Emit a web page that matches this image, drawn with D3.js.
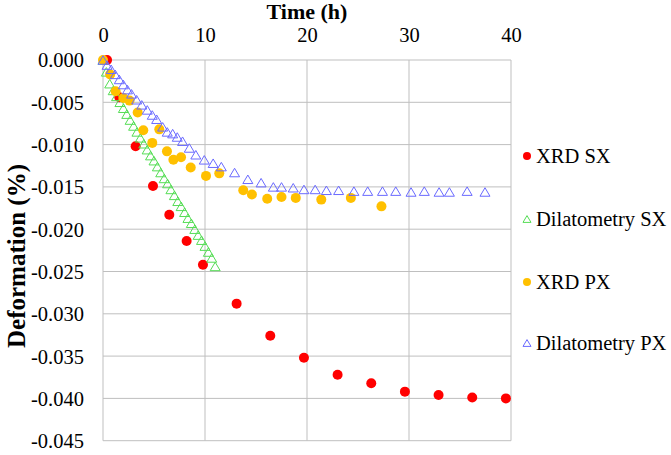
<!DOCTYPE html>
<html>
<head>
<meta charset="utf-8">
<script src="https://cdn.jsdelivr.net/npm/d3@7"></script>
<style>
body{margin:0;background:#fff;}
text{font-family:"Liberation Serif","Times New Roman",serif;fill:#000;}
</style>
</head>
<body>
<svg class="chart" width="671" height="455"></svg>
<script>
// XRD SX (red dots)
var xrdSxTime=[0.4,1.6,3.2,4.9,6.5,8.2,9.8,13.1,16.4,19.7,23.0,26.3,29.6,32.9,36.2,39.5];
var xrdSxDef=[0,-0.0044,-0.0102,-0.0149,-0.0183,-0.0214,-0.0242,-0.0288,-0.0326,-0.0352,-0.0372,-0.0382,-0.0392,-0.0396,-0.0399,-0.0400];

// Dilatometry SX (green triangles)
var dilSxTime=[0,0.33,0.66,1.0,1.33,1.66,2.0,2.33,2.66,3.0,3.33,3.66,4.0,4.33,4.66,5.0,5.33,5.66,6.0,6.33,6.66,7.0,7.33,7.66,8.0,8.33,8.66,9.0,9.33,9.66,10.0,10.33,10.66,11.0];
var dilSxDef=[0,-0.0014,-0.0028,-0.0036,-0.0043,-0.0050,-0.0057,-0.0064,-0.0071,-0.0078,-0.0085,-0.0092,-0.0099,-0.0106,-0.0113,-0.0119,-0.0126,-0.0133,-0.0140,-0.0146,-0.0153,-0.0160,-0.0167,-0.0173,-0.0180,-0.0187,-0.0193,-0.0200,-0.0207,-0.0213,-0.0220,-0.0227,-0.0234,-0.0244];

// XRD PX (orange dots)
var xrdPxTime=[0,0.7,1.24,2.0,2.6,3.4,3.95,4.83,5.52,6.27,6.9,7.65,8.6,10.1,11.4,13.75,14.6,16.1,17.5,18.9,21.4,24.3,27.3];
var xrdPxDef=[0,-0.0017,-0.0037,-0.0045,-0.0048,-0.0062,-0.0083,-0.0098,-0.0082,-0.0108,-0.0118,-0.0115,-0.0127,-0.0137,-0.0134,-0.0154,-0.0159,-0.0164,-0.0162,-0.0163,-0.0165,-0.0163,-0.0173];

// Dilatometry PX (blue triangles)
var dilPxTime=[0,0.4,0.8,1.2,1.6,2.0,2.4,2.8,3.3,3.8,4.34,4.83,5.26,5.85,6.3,6.83,7.28,7.8,8.46,9.1,9.93,10.8,11.6,12.9,14.2,15.5,16.7,17.5,18.65,19.7,20.8,21.9,23.1,24.6,25.95,27.4,28.7,30.2,31.5,32.95,33.96,35.7,37.45];
var dilPxDef=[0,-0.0006,-0.0011,-0.0017,-0.0023,-0.0029,-0.0035,-0.0040,-0.0047,-0.0053,-0.0059,-0.0065,-0.0070,-0.0079,-0.0085,-0.0087,-0.0091,-0.0096,-0.0104,-0.0112,-0.0118,-0.0122,-0.0126,-0.0133,-0.0141,-0.0145,-0.0150,-0.0150,-0.0151,-0.0153,-0.0153,-0.0154,-0.0154,-0.0155,-0.0155,-0.0155,-0.0155,-0.0156,-0.0155,-0.0156,-0.0156,-0.0155,-0.0156];

var xTicks=[0,10,20,30,40];
var yTicks=[0,-0.005,-0.010,-0.015,-0.020,-0.025,-0.030,-0.035,-0.040,-0.045];

var seriesNames=["XRD SX","Dilatometry SX","XRD PX","Dilatometry PX"];
var seriesColors=["#ff0000","#55dd55","#ffc000","#6a6aff"];

var svg=d3.select(".chart");
var x=d3.scaleLinear().domain([0,40]).range([103,511]);
var y=d3.scaleLinear().domain([0,-0.045]).range([60,440.7]);

// grid
svg.append("g").selectAll("line").data(yTicks).enter().append("line")
  .attr("x1",x(0)).attr("x2",x(40)).attr("y1",d=>y(d)).attr("y2",d=>y(d))
  .attr("stroke","#bfbfbf").attr("stroke-width",1);
svg.append("g").selectAll("line").data(xTicks).enter().append("line")
  .attr("y1",y(0)).attr("y2",y(-0.045)).attr("x1",d=>x(d)).attr("x2",d=>x(d))
  .attr("stroke","#bfbfbf").attr("stroke-width",1);

// axes labels
var yAxis=svg.append("g").attr("transform","translate("+x(0)+",0)")
  .call(d3.axisLeft(y).tickValues(yTicks).tickSize(0).tickPadding(19).tickFormat(d=>d.toFixed(3)));
yAxis.select(".domain").remove();
yAxis.selectAll("text").attr("font-size","20.5px").attr("dy","0.34em");

var xAxis=svg.append("g").attr("transform","translate(0,"+y(0)+")")
  .call(d3.axisTop(x).tickValues(xTicks).tickSize(0).tickPadding(18).tickFormat(d3.format("d")));
xAxis.select(".domain").remove();
xAxis.selectAll("text").attr("font-size","20.5px");

svg.append("text").attr("x",307).attr("y",19).attr("text-anchor","middle")
  .attr("font-size","22px").attr("font-weight","bold").text("Time (h)");
svg.append("text").attr("transform","translate(25,256) rotate(-90)").attr("text-anchor","middle")
  .attr("font-size","25px").attr("font-weight","bold").text("Deformation (%)");

function tri(s){
  var h=s*0.85;
  return "M0,"+(-h/2)+"L"+(s/2)+","+(h/2)+"L"+(-s/2)+","+(h/2)+"Z";
}

function dots(t,v,color){
  svg.append("g").selectAll("circle").data(d3.zip(t,v)).enter().append("circle")
    .attr("cx",d=>x(d[0])).attr("cy",d=>y(d[1])).attr("r",5).attr("fill",color);
}
function tris(t,v,color){
  svg.append("g").selectAll("path").data(d3.zip(t,v)).enter().append("path")
    .attr("transform",d=>"translate("+x(d[0])+","+y(d[1])+")")
    .attr("d",tri(10)).attr("fill","none").attr("stroke",color).attr("stroke-width",1);
}

dots(xrdSxTime,xrdSxDef,seriesColors[0]);
tris(dilSxTime,dilSxDef,seriesColors[1]);
dots(xrdPxTime,xrdPxDef,seriesColors[2]);
tris(dilPxTime,dilPxDef,seriesColors[3]);

// legend
var legY=[156,219,282,343];
var leg=svg.append("g").selectAll("g").data(seriesNames).enter().append("g")
  .attr("transform",(d,i)=>"translate(527,"+legY[i]+")");
leg.each(function(d,i){
  var g=d3.select(this);
  if(i%2==0) g.append("circle").attr("r",4).attr("fill",seriesColors[i]);
  else g.append("path").attr("d",tri(8)).attr("fill","none").attr("stroke",seriesColors[i]);
});
leg.append("text").attr("x",9).attr("y",7).attr("font-size","20.5px").text(d=>d);
</script>
</body>
</html>
